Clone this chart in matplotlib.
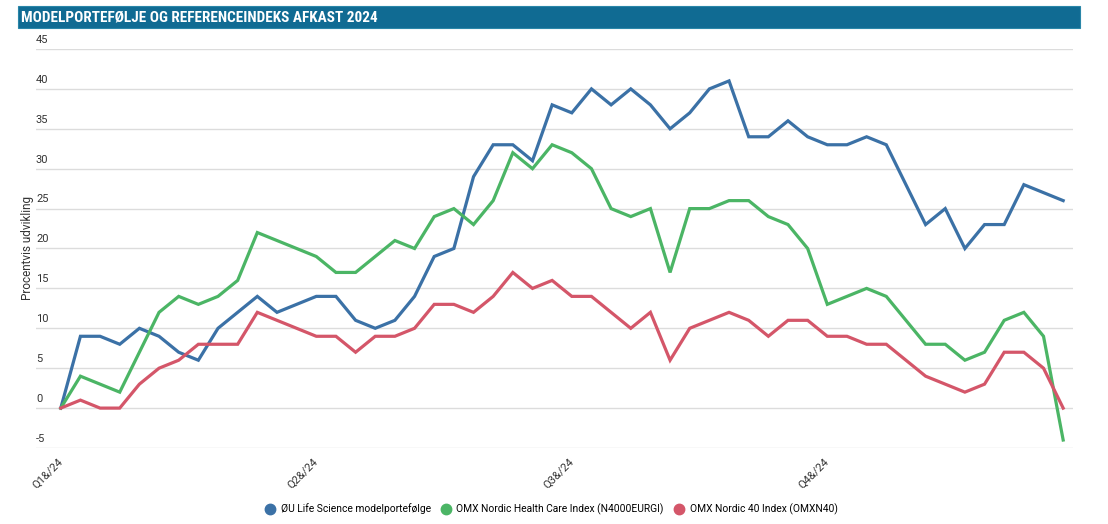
import matplotlib
matplotlib.use("Agg")
import matplotlib.pyplot as plt
from matplotlib import font_manager
from matplotlib.transforms import ScaledTranslation
from matplotlib.lines import Line2D
from matplotlib.patches import Rectangle

# ---- data ----
quarter_labels = ["Q1&/24", "Q2&/24", "Q3&/24", "Q4&/24"]
quarter_positions = [0, 13, 26, 39]

series_names = [
    "ØU Life Science modelportefølge",
    "OMX Nordic Health Care Index (N4000EURGI)",
    "OMX Nordic 40 Index (OMXN40)",
]

oeu_life_science = [0, 9, 9, 8, 10, 9, 7, 6, 10, 12, 14, 12, 13, 14, 14, 11, 10, 11, 14, 19,
                    20, 29, 33, 33, 31, 38, 37, 40, 38, 40, 38, 35, 37, 40, 41, 34, 34, 36, 34, 33,
                    33, 34, 33, 28, 23, 25, 20, 23, 23, 28, 27, 26]
omx_health_care = [0, 4, 3, 2, 7, 12, 14, 13, 14, 16, 22, 21, 20, 19, 17, 17, 19, 21, 20, 24,
                   25, 23, 26, 32, 30, 33, 32, 30, 25, 24, 25, 17, 25, 25, 26, 26, 24, 23, 20, 13,
                   14, 15, 14, 11, 8, 8, 6, 7, 11, 12, 9, -4]
omx_nordic_40 = [0, 1, 0, 0, 3, 5, 6, 8, 8, 8, 12, 11, 10, 9, 9, 7, 9, 9, 10, 13,
                 13, 12, 14, 17, 15, 16, 14, 14, 12, 10, 12, 6, 10, 11, 12, 11, 9, 11, 11, 9,
                 9, 8, 8, 6, 4, 3, 2, 3, 7, 7, 5, 0]

y_ticks = [-5, 0, 5, 10, 15, 20, 25, 30, 35, 40, 45]

colors = ["#3b71a6", "#4bb565", "#d45669"]
title_text = "MODELPORTEFØLJE OG REFERENCEINDEKS AFKAST 2024"
y_label = "Procentvis udvikling"

# choose a narrow font for the title if one is installed
names = {f.name for f in font_manager.fontManager.ttflist}
title_family = None
for cand in ["Liberation Sans Narrow", "Roboto Condensed", "DejaVu Sans Condensed"]:
    if cand in names:
        title_family = cand
        break

# ---- figure ----
fig = plt.figure(figsize=(11.08, 5.24), dpi=100)
W, H = 1108, 524
ax = fig.add_axes([36 / W, 1 - 448 / H, (1073 - 36) / W, (448 - 49) / H])

x = list(range(len(oeu_life_science)))
for vals, c, name in zip([oeu_life_science, omx_health_care, omx_nordic_40], colors, series_names):
    ax.plot(x, vals, color=c, lw=2.3, solid_joinstyle="miter", label=name, zorder=3)

ax.set_xlim(-1.26, 51.5)
ax.set_ylim(-5, 45)
ax.set_yticks(y_ticks)
ax.set_yticklabels([str(v) for v in y_ticks])
ax.grid(axis="y", color="#dcdcdc", lw=1)
ax.set_axisbelow(True)
for s in ax.spines.values():
    s.set_visible(False)
ax.tick_params(axis="y", length=0, pad=0, labelsize=8, labelcolor="#333333")
for lab in ax.get_yticklabels():
    lab.set_ha("left")
    lab.set_va("bottom")
    lab.set_fontfamily("Roboto")
    lab.set_transform(lab.get_transform() + ScaledTranslation(0, 3 / 72, fig.dpi_scale_trans))

ax.set_xticks(quarter_positions)
ax.set_xticklabels(quarter_labels, rotation=45, ha="right", va="center",
                   rotation_mode="anchor", fontsize=8, color="#333333", family="Roboto")
ax.tick_params(axis="x", length=0, pad=9)

fig.text(27 / W, 1 - 248 / H, y_label, rotation=90, ha="center", va="center",
         fontsize=8.5, color="#333333", family="Roboto")

# title bar
fig.patches.append(Rectangle((18 / W, 1 - 28 / H), (1080 - 18) / W, 22 / H,
                             transform=fig.transFigure, facecolor="#106b93",
                             edgecolor="#2a86a8", lw=0.8, zorder=0))
if title_family is not None:
    fig.text(21 / W, 1 - 17 / H, title_text, ha="left", va="center", color="white",
             fontsize=11, fontweight="bold", family=title_family)
else:
    fig.text(21 / W, 1 - 17 / H, title_text, ha="left", va="center", color="white",
             fontsize=9.5, fontweight="bold", family="DejaVu Sans")

handles = [Line2D([], [], marker="o", ls="none", color=c, markersize=7.5) for c in colors]
fig.legend(handles, series_names, loc="center", bbox_to_anchor=(0.495, 1 - 509 / H),
           ncol=3, frameon=False, handletextpad=0.05, columnspacing=0.45,
           prop={"family": "Roboto", "size": 7.4})

fig.savefig("out.png", dpi=100, facecolor="white")
